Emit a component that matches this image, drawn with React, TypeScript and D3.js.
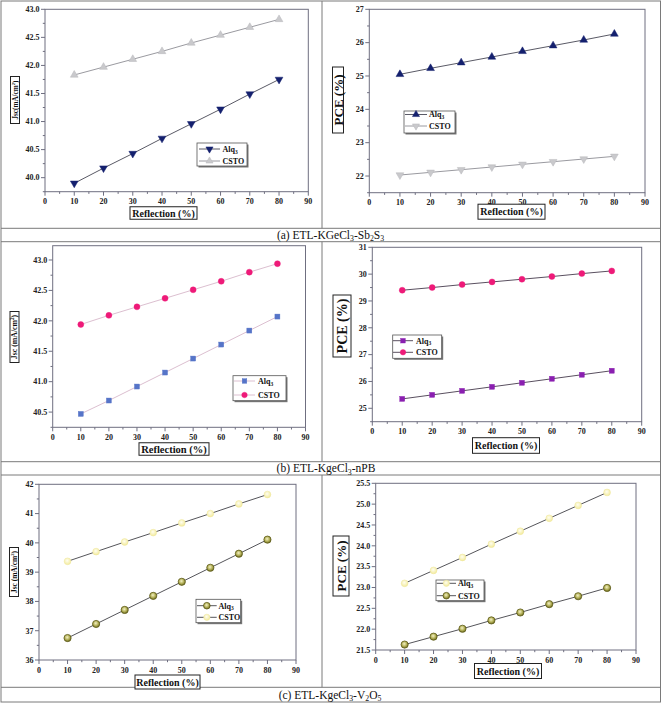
import React from 'react';
import * as d3 from 'd3';

// ---------------- DATA ----------------
const reflection = [10, 20, 30, 40, 50, 60, 70, 80];
const xTickValues = [0, 10, 20, 30, 40, 50, 60, 70, 80, 90];

// (a) ETL-KGeCl3-Sb2S3
const aJscAlq3 = [39.9, 40.17, 40.43, 40.7, 40.96, 41.22, 41.49, 41.75];
const aJscCSTO = [41.83, 41.97, 42.11, 42.25, 42.4, 42.54, 42.68, 42.82];
const aPceAlq3 = [25.05, 25.23, 25.4, 25.57, 25.74, 25.91, 26.08, 26.26];
const aPceCSTO = [22.03, 22.11, 22.19, 22.27, 22.35, 22.43, 22.51, 22.59];

// (b) ETL-KgeCl3-nPB
const bJscAlq3 = [40.47, 40.69, 40.92, 41.15, 41.38, 41.61, 41.84, 42.07];
const bJscCSTO = [41.94, 42.09, 42.23, 42.37, 42.51, 42.65, 42.8, 42.94];
const bPceAlq3 = [25.35, 25.5, 25.65, 25.8, 25.95, 26.1, 26.25, 26.4];
const bPceCSTO = [29.4, 29.5, 29.61, 29.71, 29.81, 29.91, 30.02, 30.12];

// (c) ETL-KgeCl3-V2O5
const cJscAlq3 = [36.75, 37.23, 37.71, 38.19, 38.67, 39.15, 39.63, 40.11];
const cJscCSTO = [39.37, 39.7, 40.03, 40.35, 40.68, 41.0, 41.33, 41.65];
const cPceAlq3 = [23.1, 23.41, 23.72, 24.04, 24.35, 24.66, 24.97, 25.28];
const cPceCSTO = [21.63, 21.82, 22.01, 22.21, 22.4, 22.6, 22.79, 22.99];

const seriesNames = ['Alq', 'CSTO'];
const captions = ['(a) ETL-KGeCl', '(b) ETL-KgeCl', '(c) ETL-KgeCl'];

// ---------------- STYLE / LAYOUT ----------------
const SERIF = '"Liberation Serif", "Times New Roman", serif';
const AXIS = '#6f6f80';

type Marker = 'triUp' | 'triDown' | 'square' | 'circle' | 'ball' | 'paleBall';
type SeriesStyle = { marker: Marker; fill: string; stroke: string; line: string };

type PanelCfg = {
  left: number; right: number; top: number; bottom: number;
  yDomain: [number, number]; yStep: number; yFmt: string;
  series: [number[], number[]]; styles: [SeriesStyle, SeriesStyle];
  legend: { x: number; y: number; w: number; h: number; lx0: number; lx1: number; tx: number; rowY: [number, number] };
  ylab: { kind: 'jsc' | 'pce'; cx: number; cy: number; w: number; h: number; fs: number };
  xlab: { cx: number; cy: number; w: number; h: number; fs: number };
};

const navy = '#14206e';
const paleGray = '#c9c9cc';
const magenta = '#ee1a78';

const panels: PanelCfg[] = [
  {
    left: 45, right: 308.3, top: 9.3, bottom: 191.7, yDomain: [39.75, 43.0], yStep: 0.5, yFmt: '.1f',
    series: [aJscAlq3, aJscCSTO],
    styles: [
      { marker: 'triDown', fill: navy, stroke: navy, line: '#5a5a66' },
      { marker: 'triUp', fill: paleGray, stroke: '#b8b8bc', line: '#9a9aa0' },
    ],
    legend: { x: 197, y: 143, w: 50, h: 23, lx0: 199, lx1: 220, tx: 222.5, rowY: [149, 161] },
    ylab: { kind: 'jsc', cx: 15, cy: 100, w: 9, h: 47, fs: 7.2 },
    xlab: { cx: 163.5, cy: 213, w: 67, h: 12.5, fs: 10 },
  },
  {
    left: 369.3, right: 645, top: 9.3, bottom: 192.7, yDomain: [21.5, 27], yStep: 1, yFmt: 'd',
    series: [aPceAlq3, aPceCSTO],
    styles: [
      { marker: 'triUp', fill: navy, stroke: navy, line: '#5a5a66' },
      { marker: 'triDown', fill: paleGray, stroke: '#b8b8bc', line: '#9a9aa0' },
    ],
    legend: { x: 404, y: 111, w: 51, h: 22, lx0: 405, lx1: 427, tx: 429, rowY: [114.5, 126] },
    ylab: { kind: 'pce', cx: 338, cy: 100, w: 11, h: 66, fs: 13 },
    xlab: { cx: 511.5, cy: 211.7, w: 67, h: 15, fs: 10 },
  },
  {
    left: 52.7, right: 305.5, top: 245.7, bottom: 427.3, yDomain: [40.25, 43.235], yStep: 0.5, yFmt: '.1f',
    series: [bJscAlq3, bJscCSTO],
    styles: [
      { marker: 'square', fill: '#5674c8', stroke: '#5674c8', line: '#dcbfd0' },
      { marker: 'circle', fill: magenta, stroke: magenta, line: '#dcbfd0' },
    ],
    legend: { x: 233, y: 375.7, w: 53, h: 25, lx0: 234, lx1: 255, tx: 258, rowY: [381, 395] },
    ylab: { kind: 'jsc', cx: 14.5, cy: 337, w: 9, h: 51, fs: 7.8 },
    xlab: { cx: 174, cy: 449, w: 70, h: 12.5, fs: 10.5 },
  },
  {
    left: 372.3, right: 641.7, top: 247.3, bottom: 421.7, yDomain: [24.5, 31], yStep: 1, yFmt: 'd',
    series: [bPceAlq3, bPceCSTO],
    styles: [
      { marker: 'square', fill: '#8a1fb0', stroke: '#8a1fb0', line: '#5a5060' },
      { marker: 'circle', fill: magenta, stroke: magenta, line: '#5a5060' },
    ],
    legend: { x: 392.7, y: 335, w: 49, h: 23.3, lx0: 393, lx1: 413, tx: 416, rowY: [340.7, 352.3] },
    ylab: { kind: 'pce', cx: 342, cy: 326, w: 18, h: 62, fs: 14 },
    xlab: { cx: 506, cy: 445.5, w: 67, h: 15.6, fs: 10 },
  },
  {
    left: 39, right: 296, top: 484.3, bottom: 660, yDomain: [36, 42], yStep: 1, yFmt: 'd',
    series: [cJscAlq3, cJscCSTO],
    styles: [
      { marker: 'ball', fill: '#8c8a2c', stroke: '#5e5c18', line: '#55555a' },
      { marker: 'paleBall', fill: '#f7f2b2', stroke: '#efe79a', line: '#55555a' },
    ],
    legend: { x: 196, y: 599.3, w: 44.7, h: 23.4, lx0: 197, lx1: 216.7, tx: 218.5, rowY: [605.7, 617.3] },
    ylab: { kind: 'jsc', cx: 14, cy: 572, w: 9, h: 49, fs: 7.4 },
    xlab: { cx: 167.5, cy: 682, w: 65, h: 14, fs: 10 },
  },
  {
    left: 375.7, right: 636, top: 483.3, bottom: 650, yDomain: [21.5, 25.5], yStep: 0.5, yFmt: '.1f',
    series: [cPceAlq3, cPceCSTO],
    styles: [
      { marker: 'paleBall', fill: '#f7f2b2', stroke: '#efe79a', line: '#55555a' },
      { marker: 'ball', fill: '#8c8a2c', stroke: '#5e5c18', line: '#55555a' },
    ],
    legend: { x: 436, y: 580, w: 48, h: 20.7, lx0: 436.7, lx1: 456, tx: 458, rowY: [583.3, 595.7] },
    ylab: { kind: 'pce', cx: 341, cy: 566, w: 16, h: 60, fs: 13 },
    xlab: { cx: 508, cy: 671, w: 67, h: 15, fs: 10 },
  },
];

// ---------------- COMPONENTS ----------------
function MarkerShape({ m, cx, cy, s }: { m: SeriesStyle; cx: number; cy: number; s?: number }) {
  const k = s ?? 1;
  if (m.marker === 'triUp' || m.marker === 'triDown') {
    const path = d3.symbol().type(d3.symbolTriangle).size(26 * k)() as string;
    return (
      <path d={path} transform={`translate(${cx},${cy})${m.marker === 'triDown' ? ' rotate(180)' : ''}`}
        fill={m.fill} stroke={m.stroke} strokeWidth={0.5} />
    );
  }
  if (m.marker === 'square') {
    const w = 5 * Math.sqrt(k);
    return <rect x={cx - w / 2} y={cy - w / 2} width={w} height={w} fill={m.fill} stroke={m.stroke} strokeWidth={0.4} />;
  }
  if (m.marker === 'circle') {
    return <circle cx={cx} cy={cy} r={3 * Math.sqrt(k)} fill={m.fill} stroke={m.stroke} strokeWidth={0.4} />;
  }
  if (m.marker === 'ball') {
    return <circle cx={cx} cy={cy} r={3.6 * Math.sqrt(k)} fill="url(#olive)" stroke={m.stroke} strokeWidth={0.8} />;
  }
  return <circle cx={cx} cy={cy} r={3.4 * Math.sqrt(k)} fill="url(#pale)" stroke={m.stroke} strokeWidth={0.5} />;
}

function Panel({ cfg }: { cfg: PanelCfg }) {
  const x = d3.scaleLinear().domain([0, 90]).range([cfg.left, cfg.right]);
  const y = d3.scaleLinear().domain(cfg.yDomain).range([cfg.bottom, cfg.top]);
  const fmt = d3.format(cfg.yFmt);
  const [y0, y1] = cfg.yDomain;
  const startMajor = Math.ceil(y0 / cfg.yStep - 1e-9) * cfg.yStep;
  const yMajor = d3.range(startMajor, y1 + 1e-6, cfg.yStep).map((v) => +v.toFixed(3));
  const half = cfg.yStep / 2;
  const yMinor = d3.range(Math.ceil(y0 / half - 1e-9) * half, y1 + 1e-6, half)
    .map((v) => +v.toFixed(3))
    .filter((v) => !yMajor.some((mv) => Math.abs(mv - v) < 1e-6));
  const xMinor = d3.range(5, 90, 10);
  const line = d3.line<number>().x((_, i) => x(reflection[i])).y((d) => y(d));

  const L = cfg.legend;
  const yl = cfg.ylab;
  const xl = cfg.xlab;

  return (
    <g>
      {/* frame */}
      <rect x={cfg.left} y={cfg.top} width={cfg.right - cfg.left} height={cfg.bottom - cfg.top}
        fill="none" stroke={AXIS} strokeWidth={1} />
      {/* x ticks */}
      {xTickValues.map((t) => (
        <g key={'xt' + t}>
          <line x1={x(t)} x2={x(t)} y1={cfg.bottom} y2={cfg.bottom + 4} stroke={AXIS} strokeWidth={1} />
          <text x={x(t)} y={cfg.bottom + 12.5} textAnchor="middle" fontFamily={SERIF} fontWeight="bold"
            fontSize={8} fill="#222">{t}</text>
        </g>
      ))}
      {xMinor.map((t) => (
        <line key={'xm' + t} x1={x(t)} x2={x(t)} y1={cfg.bottom} y2={cfg.bottom + 2.2} stroke={AXIS} strokeWidth={1} />
      ))}
      {/* y ticks */}
      {yMajor.map((t) => (
        <g key={'yt' + t}>
          <line x1={cfg.left - 4} x2={cfg.left} y1={y(t)} y2={y(t)} stroke={AXIS} strokeWidth={1} />
          <text x={cfg.left - 5.5} y={y(t) + 2.8} textAnchor="end" fontFamily={SERIF} fontWeight="bold"
            fontSize={8} fill="#222">{fmt(t)}</text>
        </g>
      ))}
      {yMinor.map((t) => (
        <line key={'ym' + t} x1={cfg.left - 2.2} x2={cfg.left} y1={y(t)} y2={y(t)} stroke={AXIS} strokeWidth={1} />
      ))}
      {/* series */}
      {cfg.series.map((s, si) => (
        <g key={'s' + si}>
          <path d={line(s) as string} fill="none" stroke={cfg.styles[si].line} strokeWidth={1} />
          {s.map((v, i) => (
            <MarkerShape key={i} m={cfg.styles[si]} cx={x(reflection[i])} cy={y(v)} />
          ))}
        </g>
      ))}
      {/* legend */}
      <rect x={L.x + 1.5} y={L.y + 1.5} width={L.w} height={L.h} fill="#777" />
      <rect x={L.x} y={L.y} width={L.w} height={L.h} fill="#fff" stroke="#555" strokeWidth={0.8} />
      {seriesNames.map((n, si) => (
        <g key={'lg' + si}>
          <line x1={L.lx0} x2={L.lx1} y1={L.rowY[si]} y2={L.rowY[si]} stroke={cfg.styles[si].line} strokeWidth={1} />
          <MarkerShape m={cfg.styles[si]} cx={(L.lx0 + L.lx1) / 2} cy={L.rowY[si]} s={0.85} />
          <text x={L.tx} y={L.rowY[si] + 2.8} fontFamily={SERIF} fontWeight="bold" fontSize={8} fill="#111">
            {n}{si === 0 ? <tspan fontSize={5.5} dy={1.8}>3</tspan> : null}
          </text>
        </g>
      ))}
      {/* y label */}
      <rect x={yl.cx - yl.w / 2} y={yl.cy - yl.h / 2} width={yl.w} height={yl.h} fill="#fff" stroke="#222" strokeWidth={1} />
      <text transform={`translate(${yl.cx + yl.fs * 0.35},${yl.cy}) rotate(-90)`} textAnchor="middle"
        fontFamily={SERIF} fontWeight="bold" fontSize={yl.fs} fill="#111">
        {yl.kind === 'pce' ? 'PCE (%)' : (
          <>
            {cfg.left < 50 && cfg.top < 100 ? 'Jsc(mA/cm' : 'Jsc (mA/cm'}
            <tspan fontSize={yl.fs * 0.65} dy={-yl.fs * 0.4}>2</tspan>
            <tspan dy={yl.fs * 0.4}>)</tspan>
          </>
        )}
      </text>
      {/* x label */}
      <rect x={xl.cx - xl.w / 2} y={xl.cy - xl.h / 2} width={xl.w} height={xl.h} fill="#fff" stroke="#222" strokeWidth={1} />
      <text x={xl.cx} y={xl.cy + xl.fs * 0.35} textAnchor="middle" fontFamily={SERIF} fontWeight="bold"
        fontSize={xl.fs} fill="#111">Reflection (%)</text>
    </g>
  );
}

function Caption({ idx, cx, cy }: { idx: number; cx: number; cy: number }) {
  const fs = 11.5;
  const sub = { fontSize: fs * 0.68, dy: fs * 0.22 };
  const up = { dy: -fs * 0.22 };
  let tail: React.ReactNode = null;
  if (idx === 0) {
    tail = (<>
      <tspan {...sub}>3</tspan><tspan {...up}>-Sb</tspan><tspan {...sub}>2</tspan><tspan {...up}>S</tspan><tspan {...sub}>3</tspan>
    </>);
  } else if (idx === 1) {
    tail = (<><tspan {...sub}>3</tspan><tspan {...up}>-nPB</tspan></>);
  } else {
    tail = (<>
      <tspan {...sub}>3</tspan><tspan {...up}>-V</tspan><tspan {...sub}>2</tspan><tspan {...up}>O</tspan><tspan {...sub}>5</tspan>
    </>);
  }
  return (
    <text x={cx} y={cy} textAnchor="middle" fontFamily={SERIF} fontSize={fs} fill="#111">
      {captions[idx]}{tail}
    </text>
  );
}

export default function App() {
  const W = 662, H = 709;
  const border = '#7a7a7a';
  return (
    <svg width={W} height={H} style={{ position: 'absolute', left: 0, top: 0, background: '#fff' }}>
      <defs>
        <radialGradient id="olive" cx="45%" cy="40%" r="60%">
          <stop offset="0%" stopColor="#f4f1c6" />
          <stop offset="55%" stopColor="#b5b25a" />
          <stop offset="100%" stopColor="#6e6c22" />
        </radialGradient>
        <radialGradient id="pale" cx="45%" cy="40%" r="60%">
          <stop offset="0%" stopColor="#fffef0" />
          <stop offset="100%" stopColor="#f2ea9c" />
        </radialGradient>
      </defs>
      <rect x={0} y={0} width={W} height={H} fill="#fff" />
      {/* table */}
      <rect x={1} y={1} width={659.5} height={701} fill="none" stroke={border} strokeWidth={1} />
      {[228.3, 241.7, 461.7, 475, 687.3].map((yy) => (
        <line key={yy} x1={1} x2={660.5} y1={yy} y2={yy} stroke={border} strokeWidth={1} />
      ))}
      <line x1={322} x2={322} y1={1} y2={228.3} stroke={border} strokeWidth={1} />
      <line x1={322} x2={322} y1={241.7} y2={461.7} stroke={border} strokeWidth={1} />
      <line x1={322} x2={322} y1={475} y2={687.3} stroke={border} strokeWidth={1} />
      {panels.map((p, i) => <Panel key={i} cfg={p} />)}
      <Caption idx={0} cx={330.5} cy={238.8} />
      <Caption idx={1} cx={326} cy={472} />
      <Caption idx={2} cx={330} cy={698.5} />
    </svg>
  );
}
